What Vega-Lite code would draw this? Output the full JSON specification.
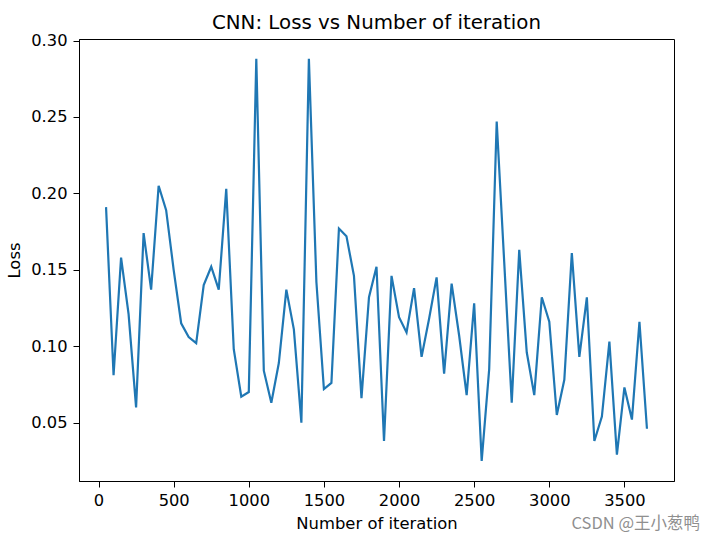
{
  "$schema": "https://vega.github.io/schema/vega-lite/v6.json",
  "width": 595,
  "height": 442,
  "autosize": {"type": "none"},
  "padding": {"left": 79, "top": 39, "right": 41, "bottom": 62},
  "background": "white",
  "title": {
    "text": "CNN: Loss vs Number of iteration",
    "font": "DejaVu Sans",
    "fontSize": 19.8,
    "fontWeight": "normal",
    "color": "#000000",
    "offset": 0,
    "anchor": "middle"
  },
  "config": {
    "view": {"stroke": "#000000", "strokeWidth": 1},
    "axis": {
      "labelFont": "DejaVu Sans",
      "titleFont": "DejaVu Sans",
      "labelFontSize": 16.3,
      "titleFontSize": 16.4,
      "titleFontWeight": "normal",
      "labelColor": "#000000",
      "titleColor": "#000000",
      "domainColor": "#000000",
      "tickColor": "#000000",
      "tickSize": 6,
      "grid": false
    }
  },
  "layer": [
    {
      "data": {
        "values": [
          {"iteration": 50, "loss": 0.191},
          {"iteration": 100, "loss": 0.081},
          {"iteration": 150, "loss": 0.158},
          {"iteration": 200, "loss": 0.121},
          {"iteration": 250, "loss": 0.060},
          {"iteration": 300, "loss": 0.174},
          {"iteration": 350, "loss": 0.137},
          {"iteration": 400, "loss": 0.205},
          {"iteration": 450, "loss": 0.189},
          {"iteration": 500, "loss": 0.150},
          {"iteration": 550, "loss": 0.115},
          {"iteration": 600, "loss": 0.106},
          {"iteration": 650, "loss": 0.102},
          {"iteration": 700, "loss": 0.140},
          {"iteration": 750, "loss": 0.152},
          {"iteration": 800, "loss": 0.137},
          {"iteration": 850, "loss": 0.203},
          {"iteration": 900, "loss": 0.098},
          {"iteration": 950, "loss": 0.067},
          {"iteration": 1000, "loss": 0.070},
          {"iteration": 1050, "loss": 0.288},
          {"iteration": 1100, "loss": 0.084},
          {"iteration": 1150, "loss": 0.063},
          {"iteration": 1200, "loss": 0.089},
          {"iteration": 1250, "loss": 0.137},
          {"iteration": 1300, "loss": 0.111},
          {"iteration": 1350, "loss": 0.050},
          {"iteration": 1400, "loss": 0.288},
          {"iteration": 1450, "loss": 0.142},
          {"iteration": 1500, "loss": 0.072},
          {"iteration": 1550, "loss": 0.076},
          {"iteration": 1600, "loss": 0.177},
          {"iteration": 1650, "loss": 0.172},
          {"iteration": 1700, "loss": 0.146},
          {"iteration": 1750, "loss": 0.066},
          {"iteration": 1800, "loss": 0.132},
          {"iteration": 1850, "loss": 0.152},
          {"iteration": 1900, "loss": 0.038},
          {"iteration": 1950, "loss": 0.146},
          {"iteration": 2000, "loss": 0.119},
          {"iteration": 2050, "loss": 0.109},
          {"iteration": 2100, "loss": 0.138},
          {"iteration": 2150, "loss": 0.093},
          {"iteration": 2200, "loss": 0.118},
          {"iteration": 2250, "loss": 0.145},
          {"iteration": 2300, "loss": 0.082},
          {"iteration": 2350, "loss": 0.141},
          {"iteration": 2400, "loss": 0.107},
          {"iteration": 2450, "loss": 0.068},
          {"iteration": 2500, "loss": 0.128},
          {"iteration": 2550, "loss": 0.025},
          {"iteration": 2600, "loss": 0.085},
          {"iteration": 2650, "loss": 0.247},
          {"iteration": 2700, "loss": 0.155},
          {"iteration": 2750, "loss": 0.063},
          {"iteration": 2800, "loss": 0.163},
          {"iteration": 2850, "loss": 0.096},
          {"iteration": 2900, "loss": 0.068},
          {"iteration": 2950, "loss": 0.132},
          {"iteration": 3000, "loss": 0.116},
          {"iteration": 3050, "loss": 0.055},
          {"iteration": 3100, "loss": 0.078},
          {"iteration": 3150, "loss": 0.161},
          {"iteration": 3200, "loss": 0.093},
          {"iteration": 3250, "loss": 0.132},
          {"iteration": 3300, "loss": 0.038},
          {"iteration": 3350, "loss": 0.054},
          {"iteration": 3400, "loss": 0.103},
          {"iteration": 3450, "loss": 0.029},
          {"iteration": 3500, "loss": 0.073},
          {"iteration": 3550, "loss": 0.052},
          {"iteration": 3600, "loss": 0.116},
          {"iteration": 3650, "loss": 0.046}
        ]
      },
      "mark": {"type": "line", "color": "#1f77b4", "strokeWidth": 2.2, "clip": true},
      "encoding": {
        "x": {
          "field": "iteration",
          "type": "quantitative",
          "scale": {"domain": [-130, 3830], "nice": false, "zero": false},
          "axis": {
            "title": "Number of iteration",
            "values": [0, 500, 1000, 1500, 2000, 2500, 3000, 3500],
            "format": "d",
            "labelPadding": 5,
            "titlePadding": 7
          }
        },
        "y": {
          "field": "loss",
          "type": "quantitative",
          "scale": {"domain": [0.0118, 0.301], "nice": false, "zero": false},
          "axis": {
            "title": "Loss",
            "values": [0.05, 0.10, 0.15, 0.20, 0.25, 0.30],
            "format": ".2f",
            "labelPadding": 6,
            "titlePadding": 8
          }
        }
      }
    },
    {
      "data": {"values": [{"iteration": 3830, "loss": 0.0118, "label": "CSDN @王小葱鸭"}]},
      "mark": {
        "type": "text",
        "align": "right",
        "baseline": "middle",
        "dx": 26,
        "dy": 43,
        "font": "Noto Sans CJK SC",
        "fontSize": 16.5,
        "color": "#8f8f8f"
      },
      "encoding": {
        "x": {"field": "iteration", "type": "quantitative"},
        "y": {"field": "loss", "type": "quantitative"},
        "text": {"field": "label"}
      }
    }
  ]
}
